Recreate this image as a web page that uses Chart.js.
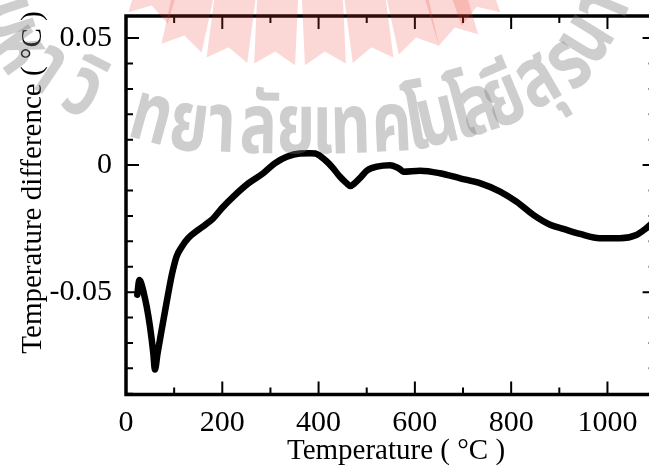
<!DOCTYPE html>
<html><head><meta charset="utf-8">
<script src="https://cdn.jsdelivr.net/npm/chart.js@4.4.1/dist/chart.umd.min.js"></script>
<style>
html,body{margin:0;padding:0;overflow:hidden;background:#fff;}
#wrap{width:658px;height:466px;position:relative;}
</style></head>
<body><div id="wrap"><canvas id="c"></canvas></div>
<script>
const temperature = [23.5, 27.7, 31, 37, 43, 49.8, 56.7, 60, 65.6, 75.4, 87.8, 96, 105, 116, 129, 150, 164, 181, 199, 223, 254, 285, 309, 334, 361, 382, 393, 417, 430, 444, 458, 466, 475, 489, 500, 510, 534, 548, 562, 569, 576, 611, 652, 694, 735, 777, 811, 846, 881, 908, 943, 984, 1026, 1060, 1081, 1095];
const tempDifference = [-0.0510, -0.0452, -0.0462, -0.0504, -0.0557, -0.0635, -0.0740, -0.0805, -0.0740, -0.0635, -0.0504, -0.0425, -0.0360, -0.0321, -0.0288, -0.0255, -0.0236, -0.0210, -0.0170, -0.0124, -0.0072, -0.0032, 0.0007, 0.0033, 0.0046, 0.0047, 0.0046, 0.0014, -0.0012, -0.0045, -0.0071, -0.0082, -0.0071, -0.0045, -0.0022, -0.0012, -0.0002, -0.0001, -0.0008, -0.0016, -0.0026, -0.0022, -0.0032, -0.0052, -0.0071, -0.0104, -0.0144, -0.0196, -0.0235, -0.0251, -0.0271, -0.0288, -0.0288, -0.0275, -0.0248, -0.0225];
const xTickLabels = [0, 200, 400, 600, 800, 1000];
const yTickLabels = [-0.05, 0, 0.05];
const xMinorTicks = [0, 100, 200, 300, 400, 500, 600, 700, 800, 900, 1000, 1100];
const yMinorTicks = [-0.09, -0.08, -0.07, -0.06, -0.05, -0.04, -0.03, -0.02, -0.01, 0, 0.01, 0.02, 0.03, 0.04, 0.05];
const xTitle = 'Temperature ( °C )';
const yTitle = 'Temperature difference ( °C )';
const watermarkText = 'มหาวิทยาลัยเทคโนโลยีสุรนารี';

const SERIF = '"Liberation Serif", "Times New Roman", serif';

const framePlugin = {
  id: 'frame',
  afterDraw(chart) {
    const ctx = chart.ctx;
    const {left, right, top, bottom} = chart.chartArea;
    const xs = chart.scales.x, ys = chart.scales.y;
    ctx.save();
    ctx.strokeStyle = '#000';
    ctx.lineWidth = 3.5;
    ctx.strokeRect(left, top, right - left, bottom - top);
    ctx.lineWidth = 2;
    ctx.beginPath();
    xMinorTicks.forEach(v => {
      const px = xs.getPixelForValue(v);
      const L = xTickLabels.includes(v) ? 13 : 7;
      ctx.moveTo(px, bottom); ctx.lineTo(px, bottom - L);
      ctx.moveTo(px, top); ctx.lineTo(px, top + L);
    });
    yMinorTicks.forEach(v => {
      const py = ys.getPixelForValue(v);
      const L = yTickLabels.some(t => Math.abs(t - v) < 1e-9) ? 13 : 7;
      ctx.moveTo(left, py); ctx.lineTo(left + L, py);
      ctx.moveTo(right, py); ctx.lineTo(right - L, py);
    });
    ctx.stroke();
    ctx.fillStyle = '#000';
    ctx.font = '29px ' + SERIF;
    ctx.textAlign = 'center';
    ctx.textBaseline = 'alphabetic';
    ctx.fillText(xTitle, 396, 459);
    ctx.translate(41, 182.5);
    ctx.rotate(-Math.PI / 2);
    ctx.font = '29px ' + SERIF;
    ctx.fillText(yTitle, 0, 0);
    ctx.restore();
  }
};

const watermarkPlugin = {
  id: 'watermark',
  afterDraw(chart) {
    const ctx = chart.ctx;
    ctx.save();
    // pink pennant fan
    const C = {x: 300, y: -495};
    const pennants = [[-16.5, 535], [-12.3, 556], [-7.5, 560], [-2.6, 560], [2.6, 560], [7.5, 560], [12.3, 558], [16.5, 558], [19.4, 545]];
    ctx.fillStyle = 'rgba(235,60,45,0.2)';
    pennants.forEach(([deg, rb]) => {
      const a = deg * Math.PI / 180;
      const u = {x: Math.sin(a), y: Math.cos(a)}, v = {x: Math.cos(a), y: -Math.sin(a)};
      const P = (r, s) => [C.x + r * u.x + s * v.x, C.y + r * u.y + s * v.y];
      const hw = 20.5, r0 = 380;
      const pts = [P(r0, -hw), P(rb, -hw), P(rb - 13, 0), P(rb, hw), P(r0, hw)];
      ctx.beginPath();
      pts.forEach((p, i) => i ? ctx.lineTo(p[0], p[1]) : ctx.moveTo(p[0], p[1]));
      ctx.closePath();
      ctx.fill();
    });
    // gray text along a curved baseline
    const path = [[-15,20],[-1,63],[30,86],[72,113],[137,139],[184,150],[255,153],[350,153],[414,150],[445,143],[480,134],[520,120],[548,103],[585,82],[606,52],[625,17],[638,-25]];
    const slots = [6, 45, 89, 134, 212, 254, 289, 326, 364, 391, 419, 461, 488, 512, 537, 557, 586, 627, 668, 705, 745, 780];
    const cumL = [0];
    for (let i = 1; i < path.length; i++) cumL.push(cumL[i-1] + Math.hypot(path[i][0]-path[i-1][0], path[i][1]-path[i-1][1]));
    const ptAt = s => {
      let i = 1;
      if (s <= 0) i = 1; else if (s >= cumL[cumL.length-1]) i = path.length - 1;
      else while (cumL[i] < s) i++;
      const a = path[i-1], b = path[i], seg = cumL[i] - cumL[i-1];
      const f = (s - cumL[i-1]) / seg;
      return [a[0] + (b[0]-a[0]) * f, a[1] + (b[1]-a[1]) * f];
    };
    ctx.font = 'bold 84px "Noto Sans Thai", "Noto Sans", "DejaVu Sans", sans-serif';
    let graphemes;
    try { graphemes = [...new Intl.Segmenter('th', {granularity: 'grapheme'}).segment(watermarkText)].map(s => s.segment); }
    catch (e) { graphemes = Array.from(watermarkText); }
    ctx.fillStyle = 'rgba(120,120,120,0.36)';
    ctx.textBaseline = 'alphabetic';
    ctx.textAlign = 'center';
    graphemes.forEach((g, i) => {
      const s = slots[Math.min(i, slots.length - 1)];
      const p = ptAt(s), p1 = ptAt(s - 16), p2 = ptAt(s + 16);
      const rot = Math.atan2(p2[1] - p1[1], p2[0] - p1[0]);
      ctx.save();
      ctx.translate(p[0], p[1]);
      ctx.rotate(rot);
      ctx.scale(0.74, 1);
      ctx.fillText(g, 0, 0);
      ctx.restore();
    });
    ctx.restore();
  }
};

new Chart(document.getElementById('c'), {
  type: 'line',
  data: {
    datasets: [{
      data: temperature.map((t, i) => ({x: t, y: tempDifference[i]})),
      borderColor: '#000',
      borderWidth: 6.5,
      pointRadius: 0,
      cubicInterpolationMode: 'monotone',
      fill: false,
      borderCapStyle: 'round',
      borderJoinStyle: 'round'
    }]
  },
  options: {
    responsive: true,
    maintainAspectRatio: false,
    animation: false,
    layout: {padding: {top: 16, right: 2.4, left: 0, bottom: 0}},
    plugins: {legend: {display: false}, tooltip: {enabled: false}},
    scales: {
      x: {
        type: 'linear', min: 0, max: 1100,
        grid: {display: false, drawTicks: false, tickLength: 0},
        border: {display: false},
        afterBuildTicks: s => { s.ticks = xTickLabels.map(v => ({value: v})); },
        afterFit: s => { s.height = 71.5; s.paddingLeft = 0; s.paddingRight = 0; },
        ticks: {font: {family: SERIF, size: 30}, color: '#000', padding: 11, maxRotation: 0, autoSkip: false, callback: v => String(v)}
      },
      y: {
        type: 'linear', min: -0.0903, max: 0.0587,
        grid: {display: false, drawTicks: false, tickLength: 0},
        border: {display: false},
        afterBuildTicks: s => { s.ticks = yTickLabels.map(v => ({value: v})); },
        afterFit: s => { s.width = 126; s.paddingTop = 0; s.paddingBottom = 0; },
        ticks: {font: {family: SERIF, size: 30}, color: '#000', padding: 14, autoSkip: false, callback: v => (Math.abs(v) < 1e-9 ? '0' : v.toFixed(2))}
      }
    }
  },
  plugins: [framePlugin, watermarkPlugin]
});
</script>
</body></html>
